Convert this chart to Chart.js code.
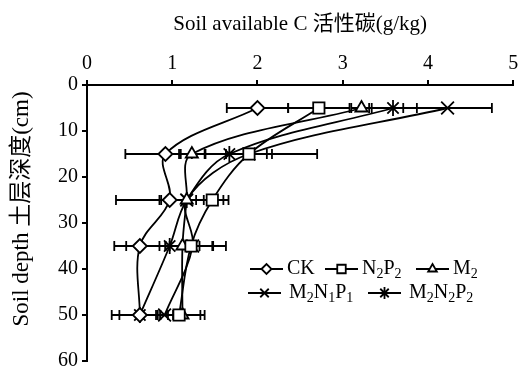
<!DOCTYPE html>
<html>
<head>
<meta charset="utf-8">
<script src="https://cdn.jsdelivr.net/npm/chart.js@4.4.0/dist/chart.umd.min.js"></script>
<style>
html, body { margin: 0; padding: 0; background: #fff; }
#wrap { width: 524px; height: 372px; }
</style>
</head>
<body>
<div id="wrap"><canvas id="soilChart"></canvas></div>
<script>
// depth of each sample (cm)
var depths = [5, 15, 25, 35, 50];

// soil available C (g/kg) per treatment
var ck     = [2.00, 0.92, 0.97, 0.62, 0.62];
var n2p2   = [2.72, 1.90, 1.47, 1.22, 1.08];
var m2     = [3.22, 1.23, 1.17, 1.12, 1.12];
var m2n1p1 = [4.23, 1.90, 1.17, 1.24, 0.91];
var m2n2p2 = [3.59, 1.67, 1.17, 0.97, 0.62];

// error bars (+/-)
var ckErr     = [0.36, 0.47, 0.63, 0.30, 0.24];
var n2p2Err   = [0.36, 0.27, 0.19, 0.25, 0.25];
var m2Err     = [0.12, 0.15, 0.20, 0.20, 0.26];
var m2n1p1Err = [0.52, 0.80, 0.30, 0.39, 0.10];
var m2n2p2Err = [0.28, 0.44, 0.32, 0.51, 0.33];

var xTicks = [0, 1, 2, 3, 4, 5];
var yTicks = [0, 10, 20, 30, 40, 50, 60];

var serif = "'Liberation Serif', 'Noto Sans CJK SC', serif";

function pts(vals) {
    return vals.map(function(v, i) { return {x: v, y: depths[i]}; });
}

function series(label, vals, errs, style, r) {
    return {
        label: label,
        data: pts(vals),
        errors: errs,
        showLine: true,
        tension: 0.35,
        borderColor: '#000',
        borderWidth: 1.8,
        pointStyle: style,
        pointRadius: r,
        pointBackgroundColor: '#fff',
        pointBorderColor: '#000',
        pointBorderWidth: 1.8
    };
}

// horizontal error bars
var errorBars = {
    id: 'errorBars',
    beforeDatasetsDraw: function(chart) {
        var ctx = chart.ctx;
        var xs = chart.scales.x, ys = chart.scales.y;
        ctx.save();
        ctx.strokeStyle = '#000';
        ctx.lineWidth = 1.8;
        chart.data.datasets.forEach(function(ds) {
            ds.data.forEach(function(p, i) {
                var e = ds.errors[i];
                var x1 = xs.getPixelForValue(p.x - e);
                var x2 = xs.getPixelForValue(p.x + e);
                var y = ys.getPixelForValue(p.y);
                ctx.beginPath();
                ctx.moveTo(x1, y); ctx.lineTo(x2, y);
                ctx.moveTo(x1, y - 5); ctx.lineTo(x1, y + 5);
                ctx.moveTo(x2, y - 5); ctx.lineTo(x2, y + 5);
                ctx.stroke();
            });
        });
        ctx.restore();
    }
};

// text with subscripts, parts = [[text, isSub], ...]
function richText(ctx, parts, x, y) {
    parts.forEach(function(p) {
        ctx.font = (p[1] ? '14px ' : '20px ') + serif;
        ctx.fillText(p[0], x, y + (p[1] ? 5 : 0));
        x += ctx.measureText(p[0]).width;
    });
}

var legendItems = [
    {x: 250, tx: 287, y: 269, style: 'rectRot',  r: 5, text: [['CK', 0]]},
    {x: 325, tx: 362, y: 269, style: 'rect',     r: 6, text: [['N', 0], ['2', 1], ['P', 0], ['2', 1]]},
    {x: 416, tx: 453, y: 269, style: 'triangle', r: 5, text: [['M', 0], ['2', 1]]},
    {x: 248, tx: 289, y: 293, style: 'crossRot', r: 6, text: [['M', 0], ['2', 1], ['N', 0], ['1', 1], ['P', 0], ['1', 1]]},
    {x: 368, tx: 409, y: 293, style: 'star',     r: 6, text: [['M', 0], ['2', 1], ['N', 0], ['2', 1], ['P', 0], ['2', 1]]}
];

var extras = {
    id: 'extras',
    afterDraw: function(chart) {
        var ctx = chart.ctx;
        ctx.save();
        legendItems.forEach(function(it) {
            ctx.strokeStyle = '#000';
            ctx.lineWidth = 1.8;
            ctx.beginPath();
            ctx.moveTo(it.x, it.y); ctx.lineTo(it.x + 33, it.y);
            ctx.stroke();
            ctx.fillStyle = '#fff';
            Chart.helpers.drawPoint(ctx, {pointStyle: it.style, radius: it.r, borderWidth: 1.8}, it.x + 16.5, it.y);
            ctx.fillStyle = '#000';
            ctx.textBaseline = 'middle';
            ctx.textAlign = 'left';
            richText(ctx, it.text, it.tx, it.y);
        });
        // y axis title
        ctx.translate(22, 209);
        ctx.rotate(-Math.PI / 2);
        ctx.font = '23px ' + serif;
        ctx.textAlign = 'center';
        ctx.textBaseline = 'middle';
        ctx.fillText('Soil depth 土层深度(cm)', 0, 0);
        ctx.restore();
    }
};

var ctx = document.getElementById('soilChart').getContext('2d');
var soilChart = new Chart(ctx, {
    type: 'scatter',
    data: {
        datasets: [
            series('CK', ck, ckErr, 'rectRot', 7),
            series('N2P2', n2p2, n2p2Err, 'rect', 8),
            series('M2', m2, m2Err, 'triangle', 7),
            series('M2N1P1', m2n1p1, m2n1p1Err, 'crossRot', 9),
            series('M2N2P2', m2n2p2, m2n2p2Err, 'star', 8)
        ]
    },
    options: {
        responsive: true,
        maintainAspectRatio: false,
        animation: false,
        devicePixelRatio: 1,
        layout: { padding: { top: 0, left: 0, right: 9, bottom: 11 } },
        plugins: {
            legend: { display: false },
            tooltip: { enabled: false }
        },
        scales: {
            x: {
                type: 'linear',
                position: 'top',
                min: 0,
                max: 5,
                afterBuildTicks: function(s) { s.ticks = xTicks.map(function(v) { return {value: v}; }); },
                afterFit: function(s) { s.height = 85; s.paddingLeft = 0; s.paddingRight = 0; },
                ticks: { color: '#000', padding: 4, font: { family: serif, size: 20 } },
                grid: { drawOnChartArea: false, tickLength: 5, color: '#000', lineWidth: 2 },
                border: { color: '#000', width: 2 },
                title: {
                    display: true,
                    text: 'Soil available C 活性碳(g/kg)',
                    color: '#000',
                    padding: { top: 12, bottom: 0 },
                    font: { family: serif, size: 21 }
                }
            },
            y: {
                type: 'linear',
                reverse: true,
                min: 0,
                max: 60,
                afterBuildTicks: function(s) { s.ticks = yTicks.map(function(v) { return {value: v}; }); },
                afterFit: function(s) { s.width = 87; s.paddingTop = 0; s.paddingBottom = 0; },
                ticks: { color: '#000', padding: 4, font: { family: serif, size: 20 } },
                grid: { drawOnChartArea: false, tickLength: 5, color: '#000', lineWidth: 2 },
                border: { color: '#000', width: 2 }
            }
        }
    },
    plugins: [errorBars, extras]
});
</script>
</body>
</html>
